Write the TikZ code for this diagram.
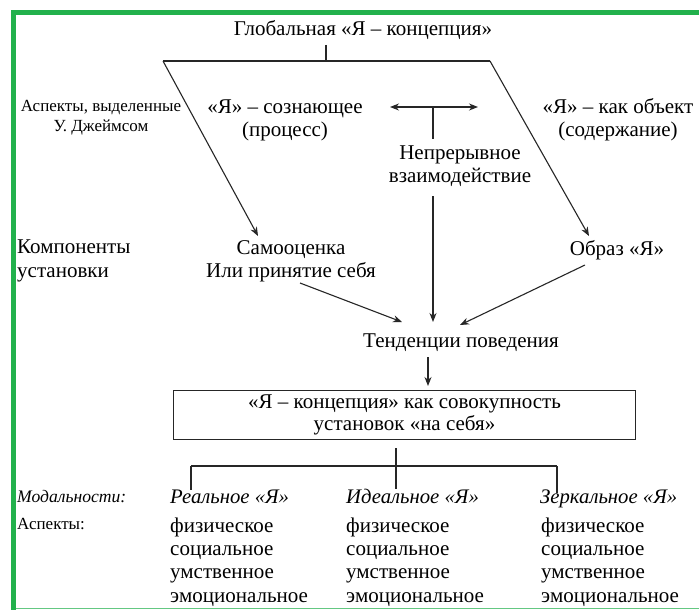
\documentclass[tikz,border=0pt]{standalone}
\usepackage{fontspec}
\setmainfont{Liberation Serif}
\usetikzlibrary{arrows.meta}
\definecolor{frameg}{RGB}{34,177,76}
\begin{document}
\begin{tikzpicture}[x=1pt,y=-1pt,
  txt/.style={inner sep=0pt,align=center,font=\fontsize{21}{23}\selectfont},
  ltxt/.style={inner sep=0pt,align=left,font=\fontsize{21}{23.3}\selectfont},
  smalltxt/.style={inner sep=0pt,align=center,font=\fontsize{17}{20}\selectfont},
  itxt/.style={inner sep=0pt,align=left,font=\fontsize{20.7}{23}\selectfont\itshape},
  conn/.style={draw=black!85,line width=1.1pt},
  arr/.style={conn,-{Stealth[length=9pt,width=7pt]}}]
\useasboundingbox (0,0) rectangle (699,610);
\fill[white] (0,0) rectangle (699,610);
% green frame
\fill[frameg] (11,10) rectangle (699,15);
\fill[frameg] (11,10) rectangle (16,610);
\draw[frameg!70,line width=1pt] (16,608) -- (699,608);

% texts
\node[txt] (title) at (363,30) {Глобальная «Я – концепция»};
\node[smalltxt] (asp) at (101,118) {Аспекты, выделенные\\У. Джеймсом};
\node[txt] (consc) at (285,120) {«Я» – сознающее\\(процесс)};
\node[txt] (cont) at (460,166) {Непрерывное\\взаимодействие};
\node[txt] (obj) at (618,120) {«Я» – как объект\\(содержание)};
\node[ltxt,anchor=west] (comp) at (17,261) {Компоненты\\установки};
\node[txt] (self) at (291,261) {Самооценка\\Или принятие себя};
\node[txt] (image) at (617,250) {Образ «Я»};
\node[txt] (tend) at (461,343) {Тенденции поведения};
\node[draw=black!85,line width=1.1pt,minimum width=462pt,minimum height=49pt,inner sep=0pt,
  align=center,font=\fontsize{21}{22}\selectfont] (box) at (404.5,415)
  {«Я – концепция» как совокупность\\установок «на себя»};
\node[itxt,anchor=base west,font=\fontsize{17.6}{23}\selectfont\itshape] (mod) at (17,502) {Модальности:};
\node[smalltxt,anchor=west] (asp2) at (17,524) {Аспекты:};
\node[itxt,anchor=base west] (real) at (170,503) {Реальное «Я»};
\node[itxt,anchor=base west] (ideal) at (346,503) {Идеальное «Я»};
\node[itxt,anchor=base west] (mirror) at (540,503) {Зеркальное «Я»};
\node[ltxt,anchor=west] (l1) at (170,562) {физическое\\социальное\\умственное\\эмоциональное};
\node[ltxt,anchor=west] (l2) at (346,562) {физическое\\социальное\\умственное\\эмоциональное};
\node[ltxt,anchor=west] (l3) at (541,562) {физическое\\социальное\\умственное\\эмоциональное};

% coordinates
\coordinate (tt0) at (326,45);
\coordinate (tl) at (163,61);
\coordinate (tr) at (490,61);
\coordinate (tt) at (326,61);
\coordinate (selftip) at (258,236);
\coordinate (imgtip) at (589,236);
\coordinate (dl) at (390,107);
\coordinate (dr) at (478,107);
\coordinate (dm) at (433,107);
\coordinate (dmb) at (433,139);
\coordinate (cs) at (433,196);
\coordinate (ce) at (433,322);
\coordinate (ss) at (300,283);
\coordinate (se) at (402,322);
\coordinate (is) at (585,265);
\coordinate (ie) at (460,325);
\coordinate (ts) at (428,357);
\coordinate (te) at (428,386);
\coordinate (bm) at (396,448);
\coordinate (hl) at (191,466);
\coordinate (hr) at (557,466);
\coordinate (hlb) at (191,490);
\coordinate (hrb) at (557,493);
\coordinate (hmb) at (396,489);

% connectors
\draw[conn] (tt0) -- (tt);
\draw[conn] (tl) -- (tr);
\draw[arr] (tl) -- (selftip);
\draw[arr] (tr) -- (imgtip);
\draw[conn,{Stealth[length=9pt,width=7pt]}-{Stealth[length=9pt,width=7pt]}] (dl) -- (dr);
\draw[conn] (dm) -- (dmb);
\draw[arr] (cs) -- (ce);
\draw[arr] (ss) -- (se);
\draw[arr] (is) -- (ie);
\draw[arr] (ts) -- (te);
\draw[conn] (bm) -- (hmb);
\draw[conn] (hl) -- (hr);
\draw[conn] (hl) -- (hlb);
\draw[conn] (hr) -- (hrb);
\end{tikzpicture}
\end{document}
